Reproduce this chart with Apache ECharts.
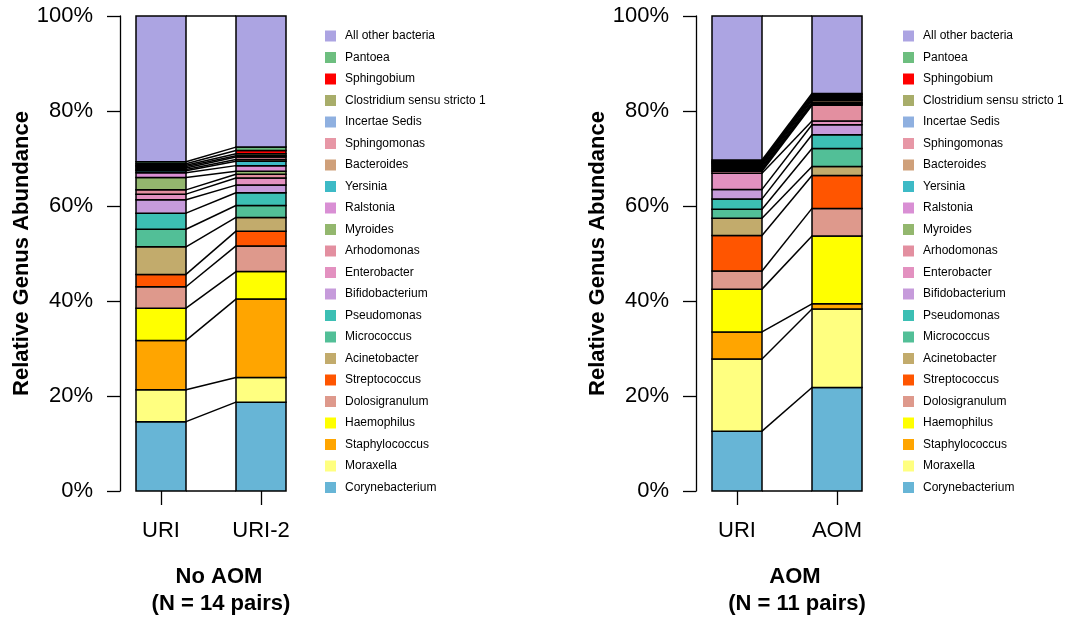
<!DOCTYPE html>
<html>
<head>
<meta charset="utf-8">
<script src="https://cdn.jsdelivr.net/npm/echarts@6/dist/echarts.min.js"></script>
<style>
html,body{margin:0;padding:0;background:#fff;}
#chart{width:1086px;height:617px;}
</style>
</head>
<body>
<div id="chart"></div>
<script>
// Genera, bottom of stack first
const genera = ["Corynebacterium","Moraxella","Staphylococcus","Haemophilus","Dolosigranulum","Streptococcus","Acinetobacter","Micrococcus","Pseudomonas","Bifidobacterium","Enterobacter","Arhodomonas","Myroides","Ralstonia","Yersinia","Bacteroides","Sphingomonas","Incertae Sedis","Clostridium sensu stricto 1","Sphingobium","Pantoea","All other bacteria"];
const colors = ["#67B5D6","#FFFF80","#FFA500","#FFFF00","#DE998C","#FF5500","#C2AB6C","#52BF97","#3CBFB4","#C69BDB","#E391C0","#E38FA0","#93B76E","#D98FD4","#3DBAC6","#CFA07A","#E797A6","#8FB0E0","#A8AD6A","#FF0000","#6DBE7F","#ACA4E2"];

// Panel 1: No AOM
const noAomLabels = ["URI","URI-2"];
const noAomURI  = [14.6,6.7,10.4,6.8,4.5,2.6,5.8,3.7,3.4,2.8,1.2,0.9,2.6,1.0,0.4,0.3,0.3,0.3,0.3,0.3,0.4,30.7];
const noAomURI2 = [18.7,5.2,16.5,5.8,5.4,3.1,2.9,2.5,2.7,1.6,1.5,0.8,0.6,1.2,0.9,0.4,0.5,0.3,0.4,0.7,0.7,27.6];

// Panel 2: AOM
const aomLabels = ["URI","AOM"];
const aomURI = [12.6,15.2,5.7,9.0,3.8,7.5,3.6,1.9,2.2,2.0,3.4,0.4,0.3,0.3,0.3,0.3,0.3,0.2,0.2,0.2,0.3,30.3];
const aomAOM = [21.8,16.5,1.1,14.3,5.8,6.9,1.9,3.8,2.9,2.1,0.8,3.3,0.2,0.2,0.2,0.4,0.3,0.3,0.3,0.3,0.3,16.3];

const yTicks = [0,20,40,60,80,100];
const titles = [["No AOM","(N = 14 pairs)"],["AOM","(N = 11 pairs)"]];
const yTitle = "Relative Genus Abundance";

const FONT = "Liberation Sans, Arial, Helvetica, sans-serif";
const panels = [
  {labels: noAomLabels, a: noAomURI, b: noAomURI2, left: 120, legendLeft: 320, title: titles[0]},
  {labels: aomLabels, a: aomURI, b: aomAOM, left: 696, legendLeft: 898, title: titles[1]}
];

function cum(arr){ const out=[0]; let s=0; arr.forEach(v=>{s+=v; out.push(s);}); return out; }

const grids=[], xAxes=[], yAxes=[], series=[], legends=[], titleOpts=[];
const XMIN=0.59, XMAX=2.5, HALF=0.25;
panels.forEach((p,pi)=>{
  grids.push({left:p.left, top:16, width:(XMAX-XMIN)*100, height:475, containLabel:false});
  xAxes.push({
    type:'value', gridIndex:pi, min:XMIN, max:XMAX,
    axisLine:{show:false}, splitLine:{show:false},
    axisTick:{show:true, customValues:[1,2], length:14, lineStyle:{color:'#000', width:1.3}},
    axisLabel:{show:true, customValues:[1,2], formatter:v=>p.labels[Math.round(v)-1], fontSize:22, color:'#000', margin:29, fontFamily:FONT}
  });
  yAxes.push({
    type:'value', gridIndex:pi, min:0, max:100, interval:20,
    axisLine:{show:true, onZero:false, lineStyle:{color:'#000', width:1.3}},
    axisTick:{show:true, length:13, lineStyle:{color:'#000', width:1.3}},
    splitLine:{show:false},
    axisLabel:{formatter:'{value}%', fontSize:22, color:'#000', margin:27, fontFamily:FONT},
    name:yTitle, nameLocation:'middle', nameGap:84, nameRotate:90,
    nameTextStyle:{fontSize:22, fontWeight:'bold', color:'#000', fontFamily:FONT}
  });
  const ca=cum(p.a), cb=cum(p.b);
  genera.forEach((g,gi)=>{
    series.push({
      name:g, type:'custom', xAxisIndex:pi, yAxisIndex:pi,
      data:[[1, ca[gi], ca[gi+1]],[2, cb[gi], cb[gi+1]]],
      encode:{x:0, y:[1,2]},
      itemStyle:{color:colors[gi]},
      animation:false, silent:true,
      renderItem:(params, api)=>{
        const x = api.value(0);
        const tl = api.coord([x-HALF, api.value(2)]);
        const br = api.coord([x+HALF, api.value(1)]);
        return {type:'rect', shape:{x:tl[0], y:tl[1], width:br[0]-tl[0], height:br[1]-tl[1]},
          style:{fill:colors[gi], stroke:'#000', lineWidth:1.5}};
      }
    });
  });
  series.push({
    type:'custom', xAxisIndex:pi, yAxisIndex:pi, animation:false, silent:true,
    data: ca.map((v,i)=>[v, cb[i]]),
    encode:{x:-1, y:-1},
    renderItem:(params, api)=>{
      const p1 = api.coord([1+HALF, api.value(0)]);
      const p2 = api.coord([2-HALF, api.value(1)]);
      return {type:'line', shape:{x1:p1[0], y1:p1[1], x2:p2[0], y2:p2[1]}, style:{stroke:'#000', lineWidth:1.5}};
    }
  });
  legends.push({
    orient:'vertical', left:p.legendLeft, top:24, icon:'rect', itemWidth:11, itemHeight:11, itemGap:7.5,
    data: genera.slice().reverse(), selectedMode:false,
    itemStyle:{borderWidth:0},
    textStyle:{fontSize:12, color:'#000', fontFamily:FONT, lineHeight:14, padding:[0,0,0,4]}
  });
  const cx = p.left + (1.5 - XMIN)*100;
  titleOpts.push({text:p.title[0], left:cx+3, top:561, textAlign:'center',
    textStyle:{fontSize:22, fontWeight:'bold', color:'#000', fontFamily:FONT}});
  titleOpts.push({text:p.title[1], left:cx+5, top:588, textAlign:'center',
    textStyle:{fontSize:22, fontWeight:'bold', color:'#000', fontFamily:FONT}});
});

const chart = echarts.init(document.getElementById('chart'), null, {renderer:'canvas'});
chart.setOption({
  animation:false,
  backgroundColor:'#fff',
  title:titleOpts, legend:legends, grid:grids, xAxis:xAxes, yAxis:yAxes, series:series
});
</script>
</body>
</html>
